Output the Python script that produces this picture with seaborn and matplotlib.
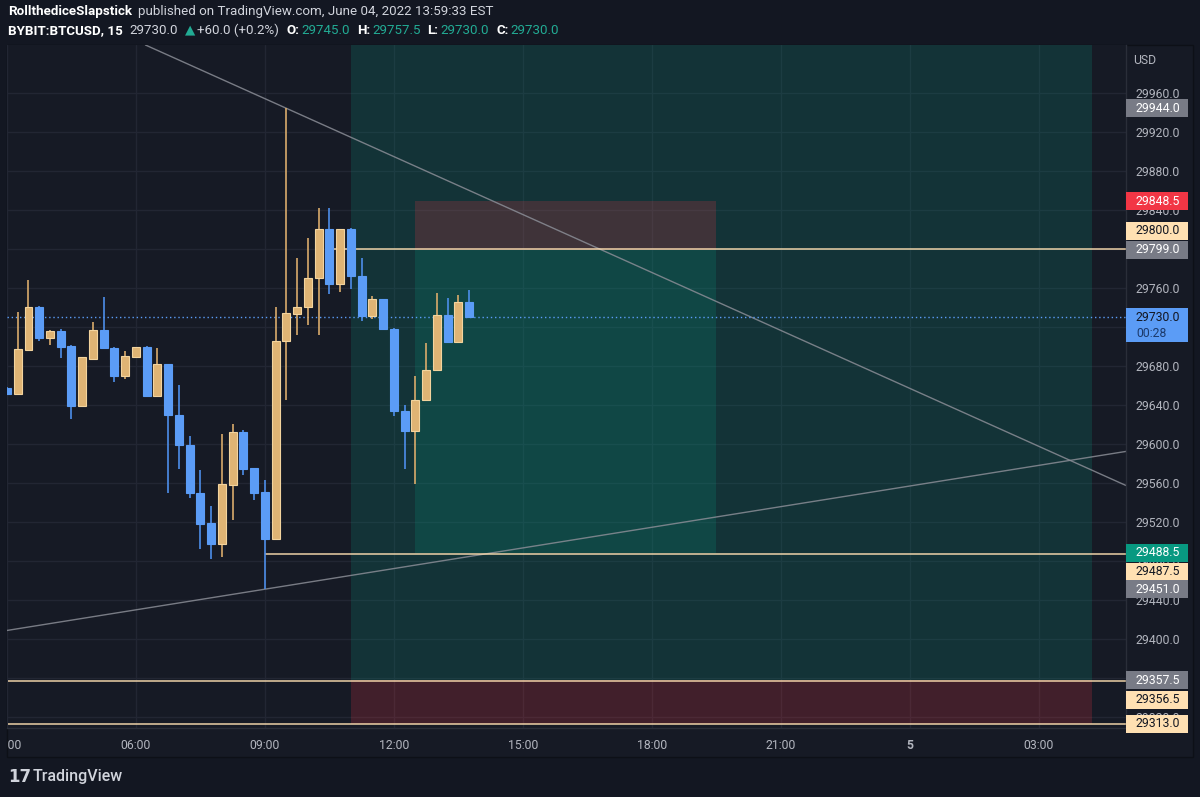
import numpy as np
import pandas as pd
import matplotlib
matplotlib.use("Agg")
import matplotlib.pyplot as plt
import matplotlib.transforms as mtransforms
from matplotlib.patches import Rectangle
from matplotlib.offsetbox import TextArea, HPacker, AnnotationBbox
import seaborn as sns

# BYBIT:BTCUSD 15m candles, June 04 2022, 03:00 -> 13:45
times = pd.date_range("2022-06-04 03:00", periods=44, freq="15min")
opens = [29657, 29651, 29696, 29740, 29709, 29716, 29700, 29639, 29687, 29717,
         29698, 29670, 29689, 29699, 29649, 29682, 29630, 29599, 29550, 29519,
         29497, 29558, 29612, 29575, 29551, 29502, 29705, 29733, 29740, 29770,
         29820, 29764, 29820, 29772, 29731, 29748, 29718, 29634, 29613, 29645,
         29676, 29732, 29704, 29745]
highs = [29658, 29735, 29768, 29741, 29717, 29718, 29701, 29689, 29725, 29751,
         29699, 29695, 29699, 29700, 29698, 29682, 29660, 29608, 29573, 29536,
         29610, 29620, 29614, 29575, 29563, 29740, 29944, 29791, 29811, 29842,
         29842, 29820, 29821, 29791, 29752, 29749, 29719, 29640, 29670, 29703,
         29755, 29750, 29753, 29757.5]
lows = [29650, 29650, 29695, 29705, 29701, 29688, 29625, 29638, 29687, 29698,
        29663, 29666, 29689, 29649, 29649, 29550, 29574, 29544, 29492, 29482,
        29484, 29522, 29568, 29542, 29451, 29502, 29645, 29712, 29722, 29712,
        29754, 29756, 29759, 29726, 29728, 29718, 29629, 29574, 29559, 29644,
        29676, 29704, 29704, 29730]
closes = [29651, 29697, 29740, 29709, 29716, 29699, 29639, 29689, 29717, 29698,
          29670, 29690, 29699, 29649, 29682, 29630, 29599, 29550, 29518, 29497,
          29559, 29612, 29574, 29550, 29502, 29705, 29734, 29740, 29770, 29820,
          29764, 29820, 29772, 29731, 29748, 29718, 29634, 29613, 29645, 29676,
          29732, 29704, 29745, 29730]

# drawings (bar index, price)
down_trend = [(26, 29944.0), (104, 29558.0)]
up_trend = [(24, 29451.0), (104, 29592.0)]
ray_prices = [29800.0, 29487.5]
ray_starts = [30, 24]
hline_prices = [29356.5, 29313.0]
# long position: start, end, entry, stop, target
long_pos = (32, 101, 29357.5, 29313.0, 30060.0)
# short position: start, end, entry, stop, target
short_pos = (38, 66, 29799.0, 29848.5, 29488.5)

y_ticks = list(range(29320, 29961, 40))
x_tick_times = ["2022-06-04 03:00", "2022-06-04 06:00", "2022-06-04 09:00",
                "2022-06-04 12:00", "2022-06-04 15:00", "2022-06-04 18:00",
                "2022-06-04 21:00", "2022-06-05 00:00", "2022-06-05 03:00"]
x_tick_labels = ["03:00", "06:00", "09:00", "12:00", "15:00", "18:00", "21:00", "5", "03:00"]

tag_values = [29944.0, 29848.5, 29800.0, 29799.0, 29488.5, 29487.5, 29451.0,
              29357.5, 29356.5, 29313.0]
tag_kinds = ["grey", "red", "cream", "grey", "green", "cream", "grey", "grey", "cream", "cream"]

BG = "#131722"
PANEL = "#161a25"
UP, UP_EDGE, UP_WICK = "#dfb474", "#f3d49e", "#d9ab6b"
DN, DN_EDGE, DN_WICK = "#5b9cf6", "#5b9cf6", "#4d8ee9"
GREEN, RED, CREAM, GREY = "#089981", "#f23645", "#ffe0b2", "#787b86"
TEXT = "#d1d4dc"
AXTXT = "#b2b5be"

sns.set_theme(style="dark", rc={
    "figure.facecolor": BG,
    "axes.facecolor": PANEL,
    "axes.edgecolor": "#2a2e39",
    "grid.color": "#222633",
    "text.color": TEXT,
    "xtick.color": AXTXT,
    "ytick.color": AXTXT,
})
plt.rcParams["font.family"] = ["Roboto", "DejaVu Sans"]

W, H = 1200, 797
fig = plt.figure(figsize=(W / 100, H / 100), dpi=100)

# chart panel frame
fig.add_artist(Rectangle((7 / W, (H - 757) / H), 1186 / W, 712 / H, transform=fig.transFigure,
                         facecolor=PANEL, edgecolor="#0d1017", lw=1, zorder=0))

ax = fig.add_axes([7 / W, (H - 728) / H, 1119 / W, 683 / H])
ax.set_xlim(0.047, 104.14)
ax.set_ylim(29308.7, 30008.9)
for s in ["top", "left"]:
    ax.spines[s].set_visible(False)
for s in ["right", "bottom"]:
    ax.spines[s].set_color("#2a2e39")
    ax.spines[s].set_linewidth(1)

df = pd.DataFrame({"time": times, "open": opens, "high": highs, "low": lows, "close": closes})
df["i"] = np.arange(len(df))
up = df["close"] >= df["open"]

# position tools
s0, s1, entry, stop, target = long_pos
ax.fill_between([s0, s1], entry, target, color=GREEN, alpha=0.2, lw=0, zorder=1)
ax.fill_between([s0, s1], stop, entry, color=RED, alpha=0.2, lw=0, zorder=1)
s0, s1, entry, stop, target = short_pos
ax.fill_between([s0, s1], target, entry, color=GREEN, alpha=0.2, lw=0, zorder=1)
ax.fill_between([s0, s1], entry, stop, color=RED, alpha=0.2, lw=0, zorder=1)

# lines
ax.axline(down_trend[0], down_trend[1], color="#8a8d96", lw=1, alpha=0.85, zorder=2)
ax.axline(up_trend[0], up_trend[1], color="#8a8d96", lw=1, alpha=0.85, zorder=2)
x_right = ax.get_xlim()[1]
ax.hlines(ray_prices, ray_starts, x_right, color=CREAM, lw=1.2, alpha=0.85, zorder=2)
ax.hlines(hline_prices, ax.get_xlim()[0], x_right, color=CREAM, lw=1.2, alpha=0.85, zorder=2)
ax.axhline(closes[-1], color=DN, lw=1, ls=(0, (1, 2)), zorder=2)

# candles
ax.vlines(df["i"], df["low"], df["high"], colors=np.where(up, UP_WICK, DN_WICK), lw=1.2, zorder=3)
body_lo = df[["open", "close"]].min(axis=1)
body_h = (df["close"] - df["open"]).abs().clip(lower=1.0)
ax.bar(df["i"], body_h, bottom=body_lo, width=0.74,
       color=np.where(up, UP, DN), edgecolor=np.where(up, UP_EDGE, DN_EDGE),
       linewidth=0.8, zorder=4)

# axes / ticks
ax.yaxis.tick_right()
ax.set_yticks(y_ticks, labels=[f"{v:.1f}" for v in y_ticks])
ax.tick_params(axis="y", length=0, pad=7.2, labelsize=8.8)
xt = [(pd.Timestamp(t) - times[0]) / pd.Timedelta("15min") for t in x_tick_times]
ax.set_xticks(xt, labels=x_tick_labels)
ax.tick_params(axis="x", length=0, pad=8, labelsize=8.8)
ax.grid(True, color="#222633", lw=1)
ax.set_axisbelow(True)

fig.canvas.draw()
clip = mtransforms.Bbox.from_extents(7, 0, W, H)
for lab in ax.get_xticklabels():
    lab.set_clip_box(clip)
    lab.set_clip_on(True)
    if lab.get_text() == "5":
        lab.set_fontweight("bold")

# price tags on the axis
ppu = 683 / (ax.get_ylim()[1] - ax.get_ylim()[0])
tag_nudge = {29800.0: -18.0, 29487.5: 18.0, 29356.5: 18.5}
tag_style = {"grey": (GREY, "white"), "red": (RED, "white"), "cream": (CREAM, BG),
             "green": (GREEN, "white")}
btrans = mtransforms.blended_transform_factory(ax.transAxes, ax.transData)
bw = 62 / 1119
for v, k in zip(tag_values, tag_kinds):
    fc, tc = tag_style[k]
    yc = v - tag_nudge.get(v, 0.0) / ppu
    ax.add_patch(Rectangle((1.0, yc - 9 / ppu), bw, 18 / ppu, transform=btrans,
                           facecolor=fc, edgecolor="none", clip_on=False, zorder=6))
    ax.text(1.0 + 10 / 1119, yc, f"{v:.1f}", transform=btrans, color=tc, fontsize=8.8,
            va="center", ha="left", clip_on=False, zorder=7)
last = closes[-1]
ax.add_patch(Rectangle((1.0, last - 25 / ppu), bw, 34 / ppu, transform=btrans,
                       facecolor=DN, edgecolor="none", clip_on=False, zorder=6))
ax.text(1.0 + 10 / 1119, last - 0.5 / ppu, f"{last:.1f}", transform=btrans, color=BG,
        fontsize=8.8, va="center", ha="left", clip_on=False, zorder=7)
ax.text(1.0 + 10 / 1119, last - 16 / ppu, "00:28", transform=btrans, color="#1c3a6b",
        fontsize=8.8, va="center", ha="left", clip_on=False, zorder=7)
fig.text(1133 / W, 1 - 60 / H, "USD", color=AXTXT, fontsize=8.8, va="center", ha="left")


# header
def header_line(parts, y, sep=4):
    groups = []
    for grp in parts:
        boxes = [TextArea(t, textprops=dict(color=c, fontsize=9.6, fontweight=w)) for t, c, w in grp]
        groups.append(HPacker(children=boxes, align="baseline", pad=0, sep=1.5))
    pack = HPacker(children=groups, align="baseline", pad=0, sep=sep)
    fig.add_artist(AnnotationBbox(pack, (8, H - y), xycoords="figure pixels",
                                  box_alignment=(0, 0.5), frameon=False, pad=0))


VAL = "#22ab94"
header_line([[("RollthediceSlapstick", "white", "bold")],
             [("published on TradingView.com, June 04, 2022 13:59:33 EST", TEXT, "normal")]], 12)
header_line([[("BYBIT:BTCUSD, 15", "white", "bold")],
             [("29730.0", TEXT, "normal")],
             [("\u25B2", VAL, "normal"), ("+60.0 (+0.2%)", TEXT, "normal")],
             [("O:", "white", "bold"), ("29745.0", VAL, "normal")],
             [("H:", "white", "bold"), ("29757.5", VAL, "normal")],
             [("L:", "white", "bold"), ("29730.0", VAL, "normal")],
             [("C:", "white", "bold"), ("29730.0", VAL, "normal")]], 30, sep=5)

# footer logo
fig.text(8 / W, 1 - 777 / H, "17", color=TEXT, fontsize=12, fontweight="heavy", va="center",
         family=["DejaVu Sans"])
fig.text(33 / W, 1 - 777 / H, "TradingView", color=TEXT, fontsize=11.5, fontweight="medium",
         va="center")

fig.savefig("out.png", dpi=100, facecolor=BG)
plt.close("all")
